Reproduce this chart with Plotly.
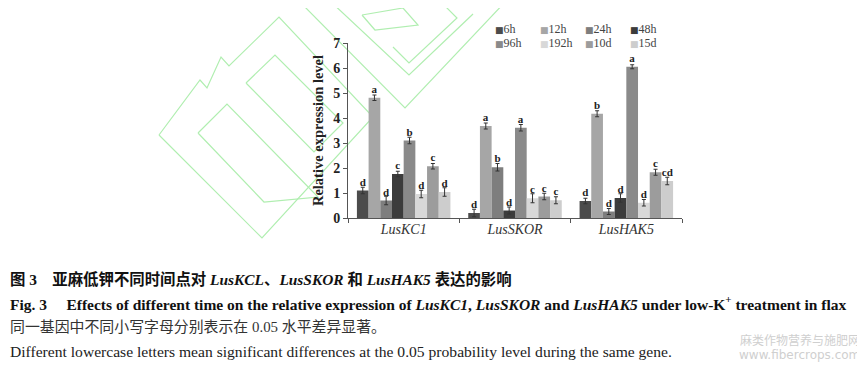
import plotly.graph_objects as go

genes = ["LusKC1", "LusSKOR", "LusHAK5"]
series = ["6h", "12h", "24h", "48h", "96h", "192h", "10d", "15d"]
values = {
    "6h":   [1.10, 0.20, 0.68],
    "12h":  [4.81, 3.68, 4.17],
    "24h":  [0.70, 2.03, 0.26],
    "48h":  [1.76, 0.30, 0.80],
    "96h":  [3.10, 3.61, 6.05],
    "192h": [0.96, 0.79, 0.61],
    "10d":  [2.07, 0.86, 1.83],
    "15d":  [1.04, 0.71, 1.48],
}
errors = {
    "6h":   [0.13, 0.15, 0.11],
    "12h":  [0.11, 0.12, 0.12],
    "24h":  [0.17, 0.15, 0.12],
    "48h":  [0.11, 0.14, 0.17],
    "96h":  [0.13, 0.13, 0.08],
    "192h": [0.15, 0.18, 0.13],
    "10d":  [0.11, 0.13, 0.12],
    "15d":  [0.17, 0.14, 0.15],
}
letters = {
    "6h":   ["d", "d", "d"],
    "12h":  ["a", "a", "b"],
    "24h":  ["d", "b", "d"],
    "48h":  ["c", "d", "d"],
    "96h":  ["b", "a", "a"],
    "192h": ["d", "c", "d"],
    "10d":  ["c", "c", "c"],
    "15d":  ["d", "c", "cd"],
}
colors = {
    "6h": "#4c4c4c", "12h": "#a6a6a6", "24h": "#7e7e7e", "48h": "#3c3c3c",
    "96h": "#8a8a8a", "192h": "#d8d8d8", "10d": "#9c9c9c", "15d": "#cdcdcd",
}
y_ticks = [0, 1, 2, 3, 4, 5, 6, 7]
y_tick_text = [f"<b>{v}</b>" for v in y_ticks]
y_title = "Relative expression level"

# page body has an 8px margin: figure is placed at (8, 8) in the window
OFF = 8
W, H = 865 - OFF, 365 - OFF
L, R, T, B = 348 - OFF, 191 - OFF, 43 - OFF, 155 - OFF
PW, PH = W - L - R, H - T - B
SERIF = "Liberation Serif, Times New Roman, Noto Sans CJK SC"
CJK = "Liberation Serif, Noto Sans CJK SC"


def px(x):
    return (x - OFF - L) / PW


def py(y):
    return (H - B - (y - OFF)) / PH


fig = go.Figure()
for s in series:
    fig.add_trace(go.Bar(
        name=s, x=genes, y=values[s],
        marker=dict(color=colors[s], line=dict(width=0)),
        error_y=dict(type="data", array=errors[s], color="#333333",
                     thickness=1, width=2),
        text=[f"<b>{t}</b>" for t in letters[s]], textposition="outside",
        textangle=0, constraintext="none", cliponaxis=False,
        textfont=dict(family=SERIF, size=11, color="#222222"),
        showlegend=False,
    ))

# watermark lines (light green)
wm = "#b0eeb0"
paths = [
    [(159, 135), (200, 80), (207, 88), (221, 57), (229, 66), (279, 17), (373, 117), (262, 238), (159, 135)],
    [(198, 133), (227, 104), (318, 197), (264, 202), (198, 133)],
    [(246, 83), (275, 55), (343, 123), (314, 152), (246, 83)],
    [(298, 0), (405, 108), (507, 0)],
    [(329, 0), (409, 75), (473, 14)],
    [(362, 15), (375, 30), (418, 25), (403, 8), (362, 15)],
    [(393, 47), (409, 63), (457, 18), (439, 0)],
]
shapes = []
for p in paths:
    d = "M " + " L ".join(f"{px(a):.4f},{py(b):.4f}" for a, b in p)
    shapes.append(dict(type="path", xref="paper", yref="paper", path=d,
                       line=dict(color=wm, width=1.2), layer="below"))

annotations = []
# legend as text
leg_rows = [series[:4], series[4:]]
leg_x = [497, 542, 587, 632]
leg_y = [29, 43]
for r, row in enumerate(leg_rows):
    for c, s in enumerate(row):
        annotations.append(dict(
            xref="paper", yref="paper", x=px(leg_x[c] - 4), y=py(leg_y[r]),
            xanchor="left", yanchor="middle", showarrow=False,
            text=f"<span style='color:{colors[s]};font-size:9px;font-family:DejaVu Sans'>■</span>{s}",
            font=dict(family=SERIF, size=12, color="#444444"),
        ))

captions = [
    ("<b>图 3\u3000亚麻低钾不同时间点对 <i>LusKCL</i>、<i>LusSKOR</i> 和 <i>LusHAK5</i> 表达的影响</b>",
     279, 15.4, CJK, "#111111"),
    ("<b>Fig. 3\u2003 Effects of different time on the relative expression of <i>LusKC1</i>, <i>LusSKOR</i> and <i>LusHAK5</i> under low-K<sup>+</sup> treatment in flax</b>",
     303, 15.5, SERIF, "#111111"),
    ("同一基因中不同小写字母分别表示在 0.05 水平差异显著。",
     327, 14.9, CJK, "#333333"),
    ("Different lowercase letters mean significant differences at the 0.05 probability level during the same gene.",
     351, 15.6, SERIF, "#222222"),
]
for text, y, size, fam, col in captions:
    annotations.append(dict(
        xref="paper", yref="paper", x=px(8), y=py(y), xanchor="left",
        yanchor="middle", showarrow=False, text=text,
        font=dict(family=fam, size=size, color=col),
    ))

annotations.append(dict(xref="paper", yref="paper", x=px(862), y=py(339),
                        xanchor="right", yanchor="middle", showarrow=False,
                        text="麻类作物营养与施肥网",
                        font=dict(family="Noto Sans CJK SC", size=12, color="#cfcfcf")))
annotations.append(dict(xref="paper", yref="paper", x=px(862), y=py(355),
                        xanchor="right", yanchor="middle", showarrow=False,
                        text="www.fibercrops.com",
                        font=dict(family="DejaVu Sans", size=12, color="#cfcfcf")))

fig.update_layout(
    width=W, height=H,
    margin=dict(l=L, r=R, t=T, b=B, autoexpand=False),
    paper_bgcolor="white", plot_bgcolor="rgba(0,0,0,0)",
    barmode="group", bargap=0.16, bargroupgap=0,
    shapes=shapes, annotations=annotations,
    xaxis=dict(
        showline=True, linecolor="#555555", linewidth=1,
        ticks="outside", tickson="boundaries", ticklen=4, tickcolor="#555555",
        ticklabelstandoff=-2,
        tickfont=dict(family=SERIF, size=14, color="#333333", style="italic"),
        showgrid=False, zeroline=False, automargin=False,
    ),
    yaxis=dict(
        range=[0, 7], tickvals=y_ticks, ticktext=y_tick_text,
        showline=True, linecolor="#555555",
        linewidth=1, ticks="outside", ticklen=4, tickcolor="#555555",
        tickfont=dict(family=SERIF, size=14, color="#222222"),
        title=dict(text=f"<b>{y_title}</b>", standoff=6,
                   font=dict(family=SERIF, size=14.5, color="#222222")),
        showgrid=False, zeroline=False, automargin=False,
    ),
)

fig.write_html("out.html")
